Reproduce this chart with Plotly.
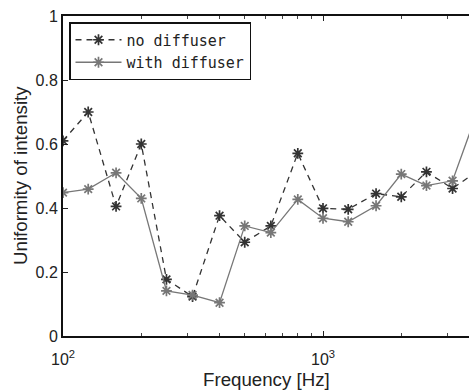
import plotly.graph_objects as go

freqs = [100, 125, 160, 200, 250, 315, 400, 500, 630, 800, 1000, 1250, 1600, 2000, 2500, 3150, 4000]
no_diffuser = [0.61, 0.70, 0.405, 0.60, 0.177, 0.123, 0.376, 0.293, 0.344, 0.571, 0.399, 0.396, 0.445, 0.435, 0.513, 0.461, 0.52]
with_diffuser = [0.448, 0.459, 0.510, 0.430, 0.141, 0.128, 0.104, 0.344, 0.323, 0.427, 0.368, 0.357, 0.407, 0.506, 0.470, 0.485, 0.72]

x_tick_vals = [100, 1000]
x_tick_text = ["10<sup>2</sup>", "10<sup>3</sup>"]
x_minor_vals = [200, 300, 400, 500, 600, 700, 800, 900, 2000, 3000]
y_tick_vals = [0, 0.2, 0.4, 0.6, 0.8, 1]

W, H = 469, 390
L, R, T, B = 63, 0, 16, 54
decade_px = 260.0
xmax_log = 2 + (W - L - R) / decade_px

fig = go.Figure()
fig.add_trace(go.Scatter(
    x=freqs, y=no_diffuser, name="no diffuser", mode="lines+markers",
    line=dict(color="#333333", width=1.3, dash="6px,5px"),
    marker=dict(symbol="asterisk-open", size=9, color="#333333",
                line=dict(color="#333333", width=1.7)),
))
fig.add_trace(go.Scatter(
    x=freqs, y=with_diffuser, name="with diffuser", mode="lines+markers",
    line=dict(color="#777777", width=1.3),
    marker=dict(symbol="asterisk-open", size=9, color="#777777",
                line=dict(color="#777777", width=1.7)),
))

font_main = "Liberation Sans, Arial, sans-serif"
fig.update_layout(
    width=W, height=H,
    margin=dict(l=L, r=R, t=T, b=B, pad=0),
    paper_bgcolor="white", plot_bgcolor="white",
    font=dict(family=font_main, size=16, color="#222222"),
    showlegend=True,
    legend=dict(
        x=(69 - L) / (W - L - R), y=(336 - 22) / 320.0,
        xanchor="left", yanchor="top",
        bgcolor="white", bordercolor="#111111", borderwidth=1.5,
        font=dict(family="DejaVu Sans Mono, monospace", size=15, color="#222222"),
        tracegroupgap=0, itemwidth=46,
    ),
    xaxis=dict(
        type="log", range=[2, xmax_log],
        tickmode="array", tickvals=x_tick_vals, ticktext=x_tick_text,
        ticks="inside", ticklen=5, tickcolor="#222222", tickwidth=1,
        showline=True, linecolor="#111111", linewidth=2, mirror="ticks",
        showgrid=False, zeroline=False, ticklabelstandoff=8,
        minor=dict(tickmode="array", tickvals=x_minor_vals, ticks="inside",
                   ticklen=3, tickcolor="#444444", showgrid=False),
        tickfont=dict(size=16),
    ),
    yaxis=dict(
        range=[0, 1], tickmode="array", tickvals=y_tick_vals,
        ticks="inside", ticklen=5, tickcolor="#222222", tickwidth=1,
        showline=True, linecolor="#111111", linewidth=2, mirror=False,
        showgrid=False, zeroline=False,
        tickfont=dict(size=16),
    ),
    annotations=[
        dict(text="Frequency [Hz]", xref="paper", yref="paper",
             x=0.5, y=(336 - 379) / 320.0, xanchor="center", yanchor="middle",
             showarrow=False, font=dict(size=18.7)),
        dict(text="Uniformity of intensity", xref="paper", yref="paper",
             x=(20 - L) / (W - L - R), y=0.5, xanchor="center", yanchor="middle",
             textangle=-90, showarrow=False, font=dict(size=18.7)),
    ],
)

fig.write_html(
    "out.html",
    config={"displayModeBar": False},
    post_script="document.body.style.margin='0';document.body.style.padding='0';"
                "document.body.style.overflow='hidden';"
                "document.documentElement.style.overflow='hidden';",
)
